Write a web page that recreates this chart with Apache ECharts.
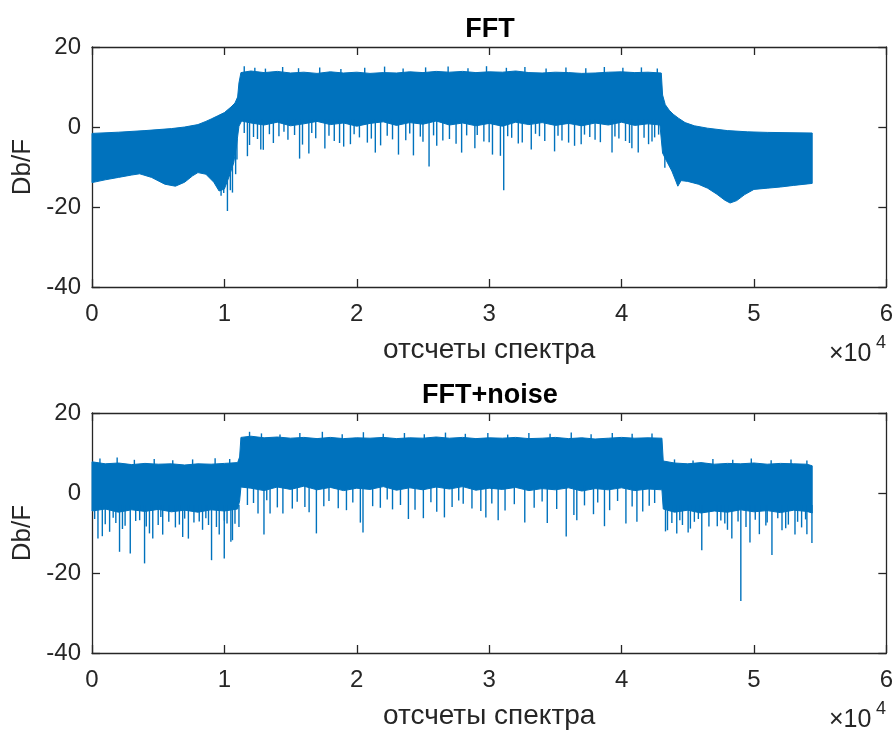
<!DOCTYPE html>
<html>
<head>
<meta charset="utf-8">
<script src="https://cdn.jsdelivr.net/npm/echarts@6/dist/echarts.min.js"></script>
<style>
  html, body { margin: 0; padding: 0; background: #fff; }
  #chart { width: 896px; height: 731px; }
</style>
</head>
<body>
<div id="chart"></div>
<script>
// x in spectrum samples, y in Db/F
const xTicks = [0, 10000, 20000, 30000, 40000, 50000, 60000];
const yTicks = [-40, -20, 0, 20];

// FFT: outline of the dense blue band
const fftUpper = [
  [0, -1.6], [2000, -1.3], [4000, -0.9], [6000, -0.4], [7000, 0], [8000, 0.6], [8600, 1.4], [9000, 2.0],
  [9500, 2.8], [10000, 3.6], [10500, 5.0], [10800, 6.0], [11000, 7.5], [11100, 11], [11250, 13.6],
  [12000, 14.0], [13000, 13.6], [14000, 13.9], [15000, 13.5], [16000, 13.7], [17000, 13.4], [18000, 13.8],
  [19000, 13.5], [20000, 13.7], [21000, 13.4], [22000, 13.6], [23000, 13.5], [24000, 13.8], [25000, 13.6],
  [26000, 13.9], [27000, 13.7], [28000, 13.9], [29000, 13.6], [30000, 13.8], [31000, 13.7], [32000, 14.0],
  [33000, 13.6], [34000, 13.5], [35000, 13.7], [36000, 13.6], [37000, 13.4], [38000, 13.5], [39000, 13.7],
  [40000, 13.8], [41000, 13.6], [42000, 13.7], [43000, 13.5], [43100, 8.0], [43300, 5.6], [43600, 4.2],
  [43900, 3.2], [44300, 2.2], [44800, 1.1], [45500, 0.3], [46500, -0.3], [48000, -0.9], [49500, -1.2],
  [51000, -1.35], [54400, -1.5]
];
const fftLower = [
  [0, -13.9], [1000, -13.2], [2000, -12.6], [3000, -12.0], [3600, -11.7], [4500, -12.6], [5500, -14.3],
  [6300, -14.8], [7000, -13.8], [7600, -12.2], [8000, -11.4], [8600, -11.8], [9200, -13.8], [9600, -16.0],
  [10000, -15.5], [10400, -12], [10700, -9], [10900, -5], [11100, 0.2], [11300, 1.5],
  [12000, 1.0], [13000, 0.5], [14000, 1.2], [15000, 0.3], [16000, 0.8], [17000, 1.4], [18000, 0.6],
  [19000, 1.0], [20000, 0.2], [21000, 0.9], [22000, 1.3], [23000, 0.4], [24000, 1.1], [25000, 0.7],
  [26000, 1.5], [27000, 0.5], [28000, 1.0], [29000, 0.3], [30000, 0.9], [31000, 0.2], [32000, 1.2],
  [33000, 0.6], [34000, 1.1], [35000, 0.4], [36000, 0.9], [37000, 0.3], [38000, 1.0], [39000, 0.5],
  [40000, 1.2], [41000, 0.4], [42000, 0.8], [42900, 0.5], [43100, -6.5], [43400, -8.5], [43800, -11],
  [44100, -13.5], [44250, -14.8], [44500, -13.4], [45000, -13.6], [45800, -14.3], [46500, -15.3],
  [47200, -16.8], [47800, -18.3], [48200, -19.0], [48700, -18.4], [49300, -16.9], [50000, -15.6],
  [51000, -15.3], [52000, -15.0], [53000, -14.6], [54400, -14.1]
];
// FFT: single spikes [x, from, to]
const fftSpikes = [
  [9750, -14, -17.2], [9950, -14, -16.5], [10230, -12, -21], [10450, -10, -15.8], [10610, -8, -16.4],
  [10850, -5, -11.8], [10950, -3, -8.1],
  [11740, 2, -7.3], [12750, 2, -5.6], [12940, 2, -5.7], [14120, 2, -2.3], [15680, 2, -7.9], [16380, 2, -6.6],
  [17590, 2, -5.4], [19010, 2, -4.9], [19520, 2, -4.3], [21400, 2, -6.4], [23150, 2, -6.9], [24280, 2, -7.1],
  [25460, 2, -9.9], [26040, 2, -4.7], [27920, 2, -6.4], [28920, 2, -5.3], [30250, 2, -6.9], [30850, 2, -7.2],
  [31100, 2, -15.8], [33180, 2, -5.6], [34940, 2, -6.1], [36450, 2, -4.7], [36950, 2, -4.3], [39280, 2, -6.4],
  [40780, 2, -5.3], [41260, 2, -6.4], [42040, 2, -4.3], [43270, -5, -10.2],
  [11500, 2, -1.5], [12200, 2, -2.5], [13400, 2, -1.8], [14800, 2, -3.2], [15300, 2, -2.0], [16900, 2, -2.8],
  [18300, 2, -3.5], [20200, 2, -2.6], [20800, 2, -3.9], [22300, 2, -2.2], [23700, 2, -3.3], [24800, 2, -2.4],
  [27000, 2, -3.0], [28300, 2, -2.1], [29600, 2, -3.6], [31700, 2, -2.7], [32500, 2, -3.9], [33800, 2, -2.3],
  [35500, 2, -3.4], [37600, 2, -2.5], [38400, 2, -3.8], [39800, 2, -2.9], [40300, 2, -3.5], [42500, 2, -2.6],
  [11900, 2, -4.5], [12500, 2, -3.0], [13700, 2, -4.0], [14500, 2, -1.2], [15900, 2, -4.4], [16600, 2, -1.5],
  [17900, 2, -2.2], [18700, 2, -4.0], [19800, 2, -1.8], [21100, 2, -2.9], [21800, 2, -4.6], [22700, 2, -3.1],
  [24000, 2, -1.6], [25000, 2, -3.7], [25800, 2, -2.1], [26500, 2, -3.4], [27500, 2, -4.2], [29100, 2, -2.0],
  [30000, 2, -3.8], [31400, 2, -2.3], [32200, 2, -4.1], [33500, 2, -1.7], [34200, 2, -3.5], [35200, 2, -2.2],
  [36000, 2, -3.9], [37200, 2, -1.9], [38000, 2, -3.2], [39500, 2, -2.4], [40600, 2, -4.0], [41700, 2, -2.7],
  [42300, 2, -3.6], [42800, 2, -1.9],
  [11500, 13, 15.2], [12300, 13, 14.8], [13100, 13, 14.6], [14400, 13, 15.0], [15600, 13, 14.7],
  [17200, 13, 14.9], [18800, 13, 14.5], [20600, 13, 14.8], [22100, 13, 15.1], [23500, 13, 14.6],
  [25200, 13, 14.9], [26900, 13, 15.1], [28400, 13, 14.7], [29800, 13, 15.2], [31300, 13, 14.8],
  [32700, 13, 15.0], [34300, 13, 14.6], [35800, 13, 14.9], [37300, 13, 14.7], [38700, 13, 15.0],
  [40100, 13, 14.8], [41500, 13, 14.9], [42700, 13, 14.6]
];

// FFT+noise
const noiseUpper = [
  [0, 7.8], [1000, 7.3], [2000, 7.5], [3000, 7.1], [4000, 7.4], [5000, 7.2], [6000, 7.3], [7000, 7.0],
  [8000, 7.3], [9000, 7.2], [10000, 7.4], [11000, 7.6], [11150, 9.0], [11250, 13.9], [12000, 14.2],
  [13000, 13.8], [14000, 14.0], [15000, 13.7], [16000, 13.9], [17000, 13.6], [18000, 13.9], [19000, 13.6],
  [20000, 13.8], [21000, 13.7], [22000, 13.9], [23000, 13.6], [24000, 13.8], [25000, 13.7], [26000, 14.0],
  [27000, 13.7], [28000, 13.9], [29000, 13.6], [30000, 13.8], [31000, 13.7], [32000, 13.9], [33000, 13.6],
  [34000, 13.7], [35000, 13.9], [36000, 13.6], [37000, 13.8], [38000, 13.5], [39000, 13.7], [40000, 13.9],
  [41000, 13.7], [42000, 13.8], [43050, 13.7], [43150, 8.0], [44000, 7.5], [45000, 7.3], [46000, 7.6],
  [47000, 7.2], [48000, 7.4], [49000, 7.3], [50000, 7.5], [51000, 7.2], [52000, 7.4], [53000, 7.3],
  [54000, 7.2], [54400, 6.8]
];
const noiseLower = [
  [0, -4.5], [1000, -4.0], [2000, -4.8], [3000, -4.2], [4000, -4.6], [5000, -4.1], [6000, -4.7], [7000, -4.3],
  [8000, -4.8], [9000, -4.2], [10000, -4.5], [11000, -4.0], [11150, -2], [11250, 1.5], [12000, 1.2],
  [13000, 0.6], [14000, 1.5], [15000, 0.9], [16000, 1.7], [17000, 0.8], [18000, 1.4], [19000, 0.6],
  [20000, 1.2], [21000, 0.9], [22000, 1.6], [23000, 0.7], [24000, 1.3], [25000, 0.8], [26000, 1.5],
  [27000, 1.0], [28000, 1.6], [29000, 0.7], [30000, 1.2], [31000, 0.9], [32000, 1.4], [33000, 0.6],
  [34000, 1.1], [35000, 0.8], [36000, 1.3], [37000, 0.5], [38000, 1.1], [39000, 0.8], [40000, 1.3],
  [41000, 0.6], [42000, 1.0], [43050, 0.8], [43150, -4.0], [44000, -4.8], [45000, -4.3], [46000, -5.0],
  [47000, -4.5], [48000, -4.8], [49000, -4.2], [50000, -4.7], [51000, -4.4], [52000, -4.9], [53000, -4.3],
  [54000, -4.6], [54400, -5.0]
];
const noiseSpikes = [
  [450, -3, -11.4], [780, -3, -10.8], [1330, -3, -9.7], [2080, -3, -14.7], [2890, -3, -15.1], [3970, -3, -17.6],
  [4340, -3, -10.1], [4590, -3, -11.4], [5340, -3, -10.4], [6850, -3, -11.0], [7280, -3, -11.4],
  [8350, -3, -9.2], [9030, -3, -16.8], [9610, -3, -10.4], [9990, -3, -16.4], [10490, -3, -12.2],
  [10610, -3, -11.8], [11100, -3, -8.5],
  [1800, -3, -7.5], [2500, -3, -8.2], [3300, -3, -7.0], [5000, -3, -8.0], [5800, -3, -7.2], [6300, -3, -8.6],
  [7700, -3, -7.4], [8800, -3, -8.0], [10200, -3, -7.6],
  [200, -3, -6.5], [1000, -3, -7.8], [1600, -3, -6.2], [2300, -3, -9.0], [3600, -3, -6.8], [4100, -3, -8.4],
  [5200, -3, -6.0], [6600, -3, -7.9], [7000, -3, -6.4], [8100, -3, -7.1], [8600, -3, -6.3], [9400, -3, -8.5],
  [10000, -3, -6.9], [10800, -3, -7.7],
  [11740, 2, -3.0], [12540, 2, -5.1], [12990, 2, -10.4], [13450, 2, -5.1], [14420, 2, -5.1], [15130, 2, -3.9],
  [16080, 2, -3.5], [16950, 2, -10.1], [17510, 2, -3.3], [19220, 2, -4.3], [20270, 2, -7.4], [20470, 2, -9.9],
  [21780, 2, -3.7], [22700, 2, -4.1], [23900, 2, -6.5], [25030, 2, -6.3], [26040, 2, -4.7], [26620, 2, -6.1],
  [28040, 2, -2.7], [29370, 2, -4.5], [29750, 2, -6.1], [30680, 2, -6.8], [32690, 2, -7.4], [34390, 2, -7.5],
  [35820, 2, -10.9], [36400, 2, -5.5], [36620, 2, -6.8], [37880, 2, -5.3], [38710, 2, -8.3], [40330, 2, -7.6],
  [41160, 2, -7.2], [42090, 2, -3.2],
  [12200, 2, -2.5], [13200, 2, -1.8], [14000, 2, -3.6], [15500, 2, -2.2], [16400, 2, -4.8], [17900, 2, -2.0],
  [18600, 2, -3.8], [19700, 2, -2.4], [21200, 2, -3.3], [22300, 2, -1.6], [23300, 2, -3.0], [24400, 2, -4.2],
  [25600, 2, -2.3], [27200, 2, -3.5], [27700, 2, -1.9], [28700, 2, -3.9], [30200, 2, -2.6], [31200, 2, -4.4],
  [31900, 2, -2.8], [33400, 2, -3.7], [34000, 2, -2.1], [35100, 2, -4.0], [37200, 2, -3.1], [38200, 2, -2.4],
  [39100, 2, -4.3], [39700, 2, -2.0], [40800, 2, -3.4], [41600, 2, -4.6], [42500, 2, -2.5],
  [43320, -3, -9.6], [43470, -3, -9.3], [44170, -3, -10.1], [45030, -3, -9.9], [46060, -3, -14.3],
  [47230, -3, -8.3], [48330, -3, -11.4], [49010, -3, -27.0], [49700, -3, -12.4], [50410, -3, -10.3],
  [51360, -3, -15.5], [52120, -3, -9.3], [53100, -3, -10.4], [54000, -3, -10.3], [54380, -3, -12.5],
  [43800, -3, -7.5], [44600, -3, -8.0], [45500, -3, -7.2], [46600, -3, -8.4], [47800, -3, -7.6],
  [50900, -3, -8.1], [52600, -3, -7.9], [53600, -3, -8.6],
  [44400, -3, -6.8], [45200, -3, -8.9], [45800, -3, -6.5], [47500, -3, -6.9], [48000, -3, -9.2],
  [48800, -3, -7.1], [49400, -3, -8.5], [50100, -3, -6.7], [51000, -3, -7.4], [51800, -3, -6.3],
  [52400, -3, -8.8], [53300, -3, -7.2], [53900, -3, -6.6],
  [600, 6.5, 8.6], [1900, 6.5, 8.9], [3200, 6.5, 8.3], [4700, 6.5, 8.5], [6100, 6.5, 8.2], [7600, 6.5, 8.4],
  [9300, 6.5, 8.7], [10400, 6.5, 8.5],
  [11900, 13, 15.3], [12800, 13, 14.9], [14200, 13, 14.6], [15700, 13, 15.0], [17400, 13, 15.3],
  [18900, 13, 14.7], [20500, 13, 15.2], [22000, 13, 14.8], [23600, 13, 15.0], [25100, 13, 14.7],
  [26700, 13, 15.1], [28200, 13, 14.8], [29900, 13, 15.0], [31400, 13, 14.6], [33000, 13, 15.0],
  [34600, 13, 14.8], [36200, 13, 15.1], [37700, 13, 14.7], [39300, 13, 15.0], [40800, 13, 14.8],
  [42300, 13, 14.9],
  [44000, 6.5, 8.4], [45400, 6.5, 8.1], [46900, 6.5, 8.5], [48400, 6.5, 8.3], [49800, 6.5, 8.6],
  [51300, 6.5, 8.2], [52800, 6.5, 8.4], [54000, 6.5, 8.1]
];

const FONT = '"Liberation Sans", Arial, Helvetica, sans-serif';
const INK = '#262626';
const BLUE = '#0072BD';

const panels = [
  { title: 'FFT', top: 47, upper: fftUpper, lower: fftLower, spikes: fftSpikes },
  { title: 'FFT+noise', top: 413, upper: noiseUpper, lower: noiseLower, spikes: noiseSpikes }
];

const lineStyle = { color: INK, width: 1.3 };
const xAxes = [], yAxes = [], grids = [], titles = [], series = [], graphics = [];

panels.forEach((p, i) => {
  grids.push({ left: 92, top: p.top, width: 798, height: 240 });
  const xBase = {
    gridIndex: i, type: 'value', min: xTicks[0], max: xTicks[xTicks.length - 1], interval: 10000,
    axisLine: { onZero: false, lineStyle }, axisTick: { inside: true, length: 8, lineStyle },
    splitLine: { show: false }
  };
  xAxes.push(Object.assign({}, xBase, {
    position: 'bottom',
    axisLabel: { formatter: v => v / 10000, fontSize: 24, color: INK, fontFamily: FONT, margin: 15 },
    name: 'отсчеты спектра', nameLocation: 'middle', nameGap: 49,
    nameTextStyle: { fontSize: 28, color: INK, fontFamily: FONT }
  }));
  xAxes.push(Object.assign({}, xBase, { position: 'top', axisLabel: { show: false } }));

  const yBase = {
    gridIndex: i, type: 'value', min: yTicks[0], max: yTicks[yTicks.length - 1], interval: 20,
    axisLine: { onZero: false, lineStyle }, axisTick: { inside: true, length: 8, lineStyle },
    splitLine: { show: false }
  };
  yAxes.push(Object.assign({}, yBase, {
    position: 'left',
    axisLabel: { fontSize: 24, color: INK, fontFamily: FONT, margin: 11, padding: [4, 0, 0, 0] },
    name: 'Db/F', nameLocation: 'middle', nameGap: 54,
    nameTextStyle: { fontSize: 26, color: INK, fontFamily: FONT }
  }));
  yAxes.push(Object.assign({}, yBase, { position: 'right', axisLabel: { show: false } }));

  titles.push({
    text: p.title, left: 485, top: p.top - 36, textAlign: 'center',
    textStyle: { fontSize: 27, fontWeight: 'bold', color: '#000', fontFamily: FONT }
  });

  const outline = p.upper.concat(p.lower.slice().reverse());
  series.push({
    type: 'custom', xAxisIndex: 2 * i, yAxisIndex: 2 * i, data: [[0, 0]], silent: true,
    renderItem: (params, api) => ({
      type: 'polygon',
      shape: { points: outline.map(pt => api.coord(pt)) },
      style: { fill: BLUE, stroke: BLUE, lineWidth: 1 }
    })
  });
  series.push({
    type: 'custom', xAxisIndex: 2 * i, yAxisIndex: 2 * i, data: p.spikes, silent: true,
    encode: { x: 0, y: [1, 2] },
    renderItem: (params, api) => {
      const a = api.coord([api.value(0), api.value(1)]);
      const b = api.coord([api.value(0), api.value(2)]);
      return {
        type: 'line',
        shape: { x1: a[0], y1: a[1], x2: b[0], y2: b[1] },
        style: { stroke: BLUE, lineWidth: 1.4 }
      };
    }
  });

  // ×10^4 multiplier under the x axis
  const gy = p.top + 240;
  graphics.push({ type: 'text', left: 829, top: gy + 55, style: { text: '×10', fontSize: 25, fill: INK, fontFamily: FONT } });
  graphics.push({ type: 'text', left: 876, top: gy + 47, style: { text: '4', fontSize: 18, fill: INK, fontFamily: FONT } });
});

const chart = echarts.init(document.getElementById('chart'));
chart.setOption({
  animation: false,
  backgroundColor: '#fff',
  title: titles,
  grid: grids,
  xAxis: xAxes,
  yAxis: yAxes,
  series: series,
  graphic: graphics
});
</script>
</body>
</html>
